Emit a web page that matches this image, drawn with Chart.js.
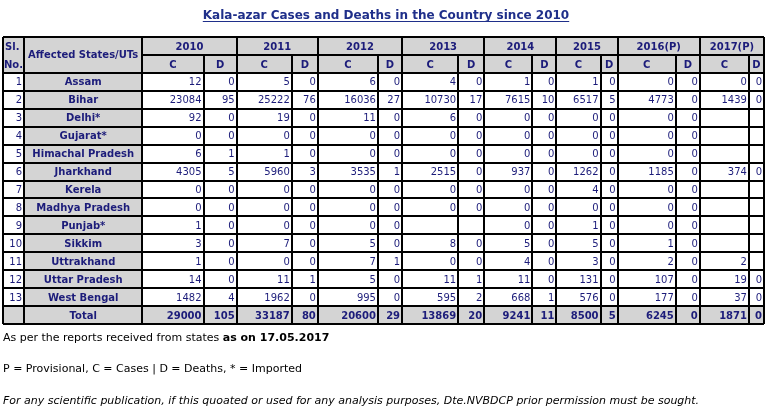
<!DOCTYPE html>
<html>
<head>
<meta charset="utf-8">
<script src="https://cdn.jsdelivr.net/npm/chart.js@4/dist/chart.umd.min.js"></script>
<style>
  html, body { margin: 0; padding: 0; background: #fff; }
  #wrap { width: 773px; height: 413px; }
</style>
</head>
<body>
<div id="wrap"><canvas id="table"></canvas></div>
<script>
// table data
var years = ["2010", "2011", "2012", "2013", "2014", "2015", "2016(P)", "2017(P)"];
var states = ["Assam", "Bihar", "Delhi*", "Gujarat*", "Himachal Pradesh", "Jharkhand", "Kerela",
  "Madhya Pradesh", "Punjab*", "Sikkim", "Uttrakhand", "Uttar Pradesh", "West Bengal"];

// cases per year, one array per state row (null = blank cell)
var cases2010 = [12, 23084, 92, 0, 6, 4305, 0, 0, 1, 3, 1, 14, 1482];
var cases2011 = [5, 25222, 19, 0, 1, 5960, 0, 0, 0, 7, 0, 11, 1962];
var cases2012 = [6, 16036, 11, 0, 0, 3535, 0, 0, 0, 5, 7, 5, 995];
var cases2013 = [4, 10730, 6, 0, 0, 2515, 0, 0, null, 8, 0, 11, 595];
var cases2014 = [1, 7615, 0, 0, 0, 937, 0, 0, 0, 5, 4, 11, 668];
var cases2015 = [1, 6517, 0, 0, 0, 1262, 4, 0, 1, 5, 3, 131, 576];
var cases2016 = [0, 4773, 0, 0, 0, 1185, 0, 0, 0, 1, 2, 107, 177];
var cases2017 = [0, 1439, null, null, null, 374, null, null, null, null, 2, 19, 37];

var deaths2010 = [0, 95, 0, 0, 1, 5, 0, 0, 0, 0, 0, 0, 4];
var deaths2011 = [0, 76, 0, 0, 0, 3, 0, 0, 0, 0, 0, 1, 0];
var deaths2012 = [0, 27, 0, 0, 0, 1, 0, 0, 0, 0, 1, 0, 0];
var deaths2013 = [0, 17, 0, 0, 0, 0, 0, 0, null, 0, 0, 1, 2];
var deaths2014 = [0, 10, 0, 0, 0, 0, 0, 0, 0, 0, 0, 0, 1];
var deaths2015 = [0, 5, 0, 0, 0, 0, 0, 0, 0, 0, 0, 0, 0];
var deaths2016 = [0, 0, 0, 0, 0, 0, 0, 0, 0, 0, 0, 0, 0];
var deaths2017 = [0, 0, null, null, null, 0, null, null, null, null, null, 0, 0];

var totalCases = [29000, 33187, 20600, 13869, 9241, 8500, 6245, 1871];
var totalDeaths = [105, 80, 29, 20, 11, 5, 0, 0];

var casesByYear = [cases2010, cases2011, cases2012, cases2013, cases2014, cases2015, cases2016, cases2017];
var deathsByYear = [deaths2010, deaths2011, deaths2012, deaths2013, deaths2014, deaths2015, deaths2016, deaths2017];

// column widths in table units: Sl, State, then C/D pairs per year
var colWidths = [21, 118, 61, 33, 55, 26, 60, 24, 56, 26, 48, 24, 44, 17, 58, 24, 49, 15];
var colEdges = [0];
colWidths.forEach(function (w) { colEdges.push(colEdges[colEdges.length - 1] + w); });

var navy = "#1c1c7a";
var grey = "#d4d4d4";
var font = "DejaVu Sans, Verdana, sans-serif";

/**
 * Draws the table grid and cell texts via the chart scales.
 */
var tablePlugin = {
  id: "tablePlugin",
  afterDraw: function (chart) {
    var ctx = chart.ctx;
    var xs = chart.scales.x;
    var ys = chart.scales.y;
    var X = function (i) { return xs.getPixelForValue(colEdges[i]); };
    var Y = function (r) { return ys.getPixelForValue(r); };
    var nRows = states.length + 3;

    ctx.save();
    // grey backgrounds
    ctx.fillStyle = grey;
    ctx.fillRect(X(0), Y(0), X(18) - X(0), Y(2) - Y(0));
    ctx.fillRect(X(1), Y(2), X(2) - X(1), Y(nRows) - Y(2));
    ctx.fillRect(X(0), Y(nRows - 1), X(18) - X(0), Y(nRows) - Y(nRows - 1));

    function cell(text, c0, c1, r, align, bold) {
      if (text === null || text === undefined) return;
      ctx.font = (bold ? "bold " : "") + "10px " + font;
      ctx.fillStyle = navy;
      ctx.textBaseline = "middle";
      var yMid = (Y(r) + Y(r + 1)) / 2 + 1;
      if (align === "right") {
        ctx.textAlign = "right";
        ctx.fillText(String(text), X(c1) - 2, yMid);
      } else {
        ctx.textAlign = "center";
        ctx.fillText(String(text), (X(c0) + X(c1)) / 2, yMid);
      }
    }

    // header
    ctx.font = "bold 10px " + font;
    ctx.fillStyle = navy;
    ctx.textAlign = "left";
    ctx.textBaseline = "middle";
    ctx.fillText("Sl.", X(0) + 2, (Y(0) + Y(1)) / 2 + 1);
    ctx.fillText("No.", X(0) + 1, (Y(1) + Y(2)) / 2 + 1);
    ctx.textAlign = "center";
    ctx.fillText("Affected States/UTs", (X(1) + X(2)) / 2, Y(1));
    years.forEach(function (yr, i) {
      var c = 2 + i * 2;
      cell(yr, c, c + 2, 0, "center", true);
      cell("C", c, c + 1, 1, "center", true);
      cell("D", c + 1, c + 2, 1, "center", true);
    });

    // body
    states.forEach(function (st, s) {
      var r = s + 2;
      cell(s + 1, 0, 1, r, "right", false);
      cell(st, 1, 2, r, "center", true);
      for (var i = 0; i < years.length; i++) {
        cell(casesByYear[i][s], 2 + i * 2, 3 + i * 2, r, "right", false);
        cell(deathsByYear[i][s], 3 + i * 2, 4 + i * 2, r, "right", false);
      }
    });
    var tr = nRows - 1;
    cell("Total", 1, 2, tr, "center", true);
    for (var i = 0; i < years.length; i++) {
      cell(totalCases[i], 2 + i * 2, 3 + i * 2, tr, "right", true);
      cell(totalDeaths[i], 3 + i * 2, 4 + i * 2, tr, "right", true);
    }

    // grid lines
    ctx.strokeStyle = "#000";
    ctx.lineWidth = 2;
    ctx.beginPath();
    for (var r = 0; r <= nRows; r++) {
      var y = Math.round(Y(r));
      if (r === 1) {
        ctx.moveTo(X(2), y); ctx.lineTo(X(18), y);
      } else {
        ctx.moveTo(X(0), y); ctx.lineTo(X(18), y);
      }
    }
    for (var c = 0; c <= 18; c++) {
      var x = Math.round(X(c));
      // D/C split inside year header only from second header row
      var top = (c >= 3 && c % 2 === 1) ? Y(1) : Y(0);
      ctx.moveTo(x, top); ctx.lineTo(x, Y(nRows));
    }
    ctx.stroke();

    // title
    ctx.font = "bold 12px " + font;
    ctx.fillStyle = "#1f2f8a";
    ctx.textAlign = "center";
    ctx.textBaseline = "alphabetic";
    var title = "Kala-azar Cases and Deaths in the Country since 2010";
    var tx = 386;
    ctx.fillText(title, tx, 19);
    var tw = ctx.measureText(title).width;
    ctx.fillRect(tx - tw / 2, 21, tw, 1);

    // footer notes
    var fy = Y(nRows);
    ctx.fillStyle = "#000";
    ctx.textAlign = "left";
    ctx.font = "11px " + font;
    var part = "As per the reports received from states ";
    ctx.fillText(part, 3, fy + 17);
    var pw = ctx.measureText(part).width;
    ctx.font = "bold 11px " + font;
    ctx.fillText("as on 17.05.2017", 3 + pw, fy + 17);
    ctx.font = "11px " + font;
    ctx.fillText("P = Provisional, C = Cases | D = Deaths, * = Imported", 3, fy + 48);
    ctx.font = "italic 11px " + font;
    ctx.fillText("For any scientific publication, if this quoated or used for any analysis purposes, Dte.NVBDCP prior permission must be sought.", 3, fy + 80);
    ctx.restore();
  }
};

new Chart(document.getElementById("table"), {
  type: "scatter",
  data: { datasets: [{ data: [] }] },
  options: {
    responsive: true,
    maintainAspectRatio: false,
    animation: false,
    layout: { padding: { left: 3, right: 9, top: 37, bottom: 89 } },
    plugins: { legend: { display: false }, tooltip: { enabled: false } },
    scales: {
      x: { type: "linear", min: 0, max: colEdges[colEdges.length - 1], display: false },
      y: { type: "linear", min: 0, max: states.length + 3, reverse: true, display: false }
    }
  },
  plugins: [tablePlugin]
});
</script>
</body>
</html>
